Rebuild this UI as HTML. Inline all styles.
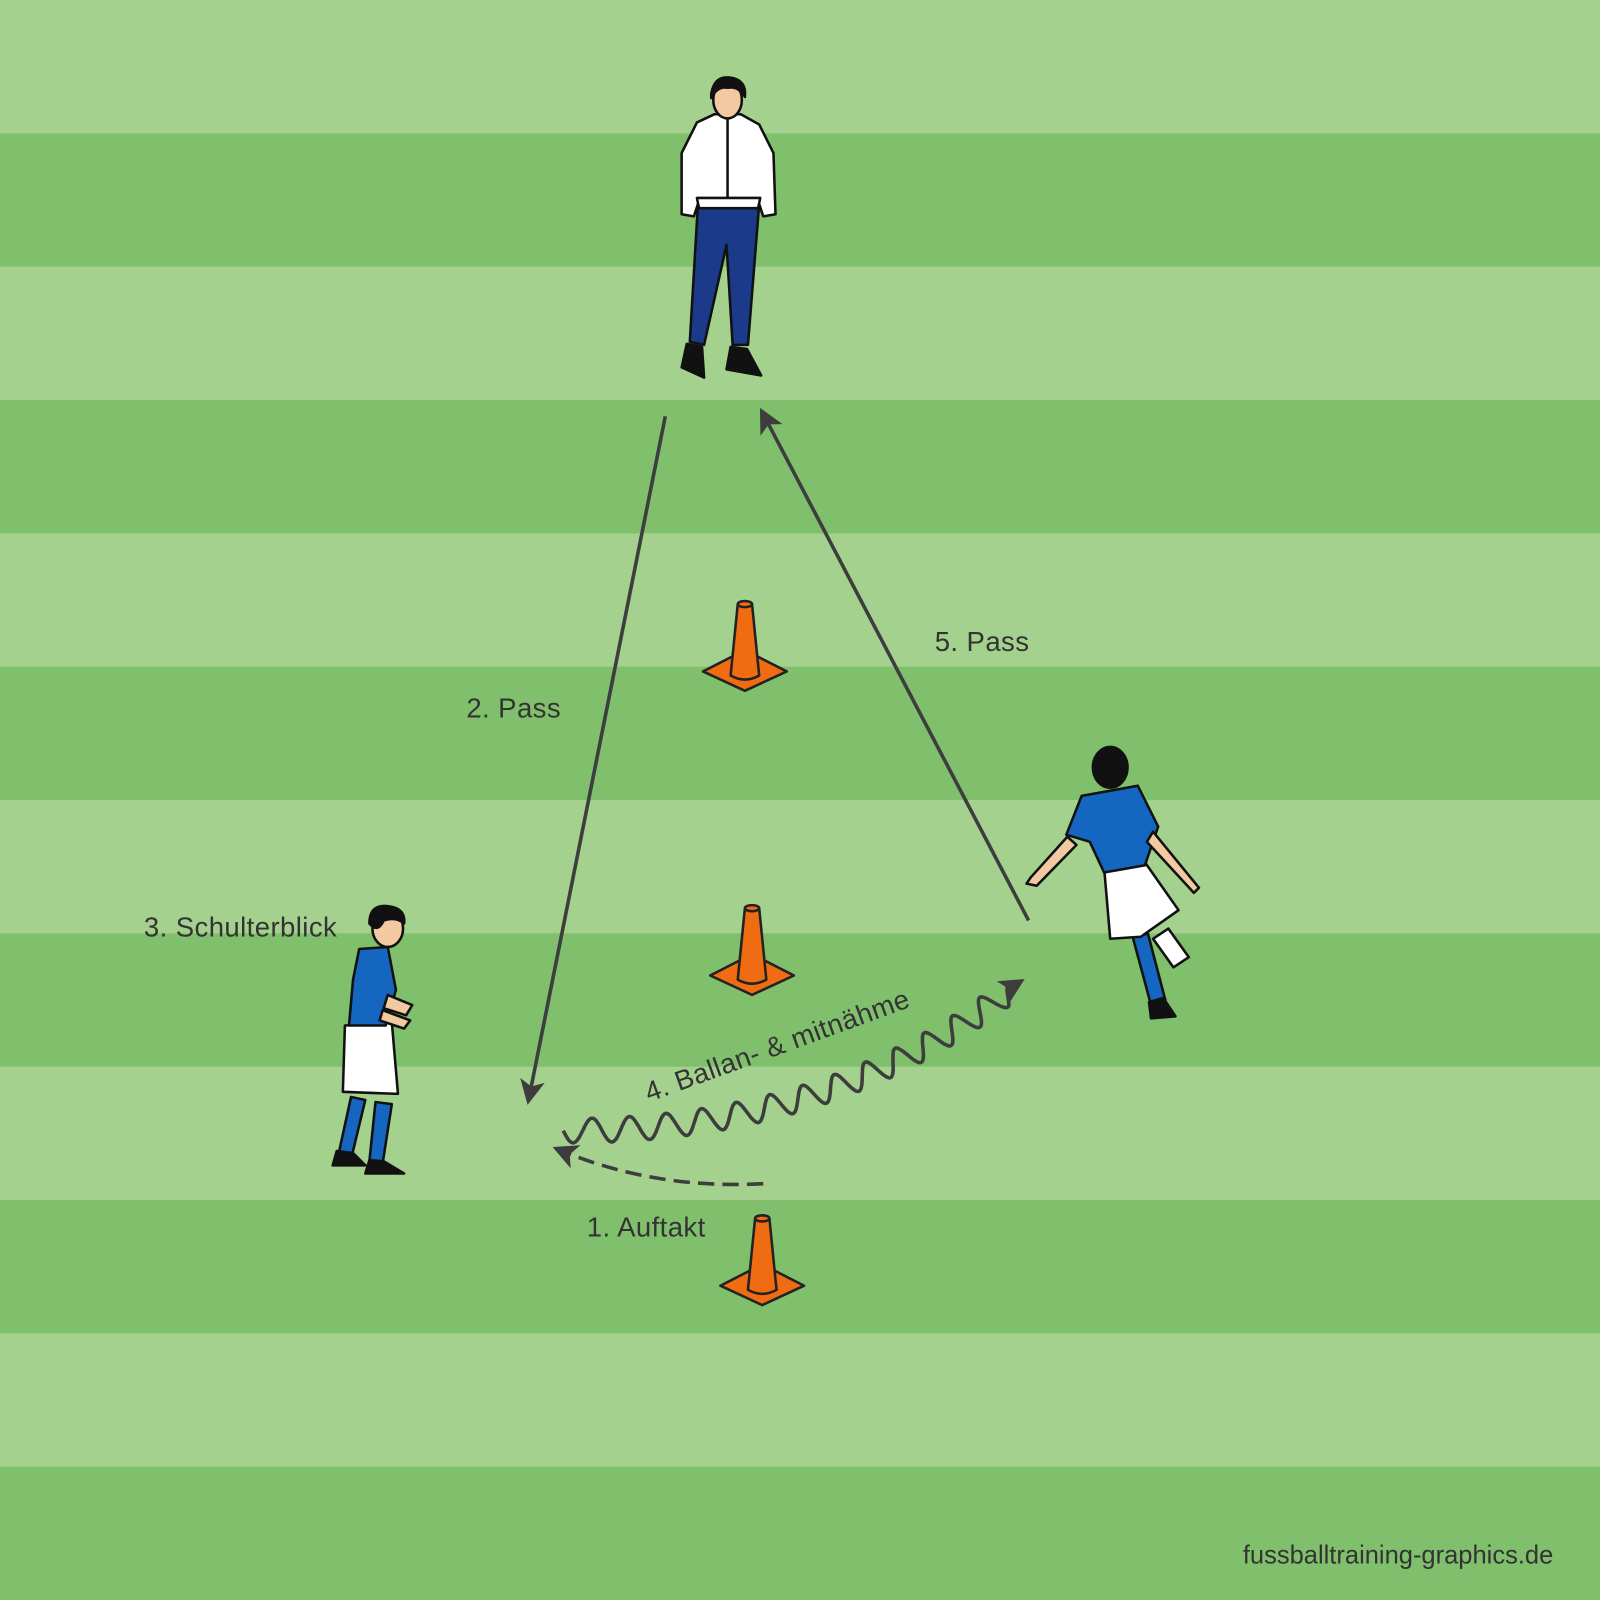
<!DOCTYPE html>
<html><head><meta charset="utf-8"><style>
html,body{margin:0;padding:0;background:#a5d18f}
svg{display:block}
text{font-family:"Liberation Sans",sans-serif;fill:#333;font-size:27px;letter-spacing:0.4px}
</style></head><body>
<svg id="s" width="1600" height="1600" viewBox="0 0 1568 1568" xmlns="http://www.w3.org/2000/svg">
<defs>
<marker id="ah" viewBox="0 0 10 10" refX="8" refY="5" markerWidth="7" markerHeight="7" orient="auto"><path d="M0,0 L10,5 L0,10 L2.5,5 z" fill="#3d3d3d"/></marker>
</defs>
<rect width="1568" height="1568" fill="#a5d18f"/>
<g fill="#80bf6b">
<rect y="130.67" width="1568" height="130.67"/>
<rect y="392" width="1568" height="130.67"/>
<rect y="653.33" width="1568" height="130.67"/>
<rect y="914.67" width="1568" height="130.67"/>
<rect y="1176" width="1568" height="130.67"/>
<rect y="1437.33" width="1568" height="130.67"/>
</g>

<g stroke="#222" stroke-width="2.5" stroke-linejoin="round">
<g transform="translate(730,0)">
<path d="M-41,658 L0,637 L41,658 L0,677 Z" fill="#ef6c12"/>
<path d="M-14,662 L-7,592 L7,592 L14,662 Q0,670 -14,662 Z" fill="#ef6c12"/>
<ellipse cx="0" cy="592" rx="7" ry="3" fill="#ef6c12"/>
</g>
<g transform="translate(737,298)">
<path d="M-41,658 L0,637 L41,658 L0,677 Z" fill="#ef6c12"/>
<path d="M-14,662 L-7,592 L7,592 L14,662 Q0,670 -14,662 Z" fill="#ef6c12"/>
<ellipse cx="0" cy="592" rx="7" ry="3" fill="#ef6c12"/>
</g>
<g transform="translate(747,602)">
<path d="M-41,658 L0,637 L41,658 L0,677 Z" fill="#ef6c12"/>
<path d="M-14,662 L-7,592 L7,592 L14,662 Q0,670 -14,662 Z" fill="#ef6c12"/>
<ellipse cx="0" cy="592" rx="7" ry="3" fill="#ef6c12"/>
</g>
</g>

<g stroke="#3d3d3d" stroke-width="3.5" fill="none">
<line x1="652" y1="408" x2="518" y2="1078" marker-end="url(#ah)"/>
<line x1="1008" y1="902" x2="747" y2="404" marker-end="url(#ah)"/>
<path d="M748,1160 Q640,1166 546,1126" stroke-dasharray="16,8" marker-end="url(#ah)"/>
<path id="wave" d="" marker-end="url(#ah)"/>
</g>

<g stroke="#111" stroke-width="2.5" stroke-linejoin="round">
<path d="M684,200 L676,335 L690,338 L712,240 L718,338 L733,338 L744,200 Z" fill="#1b3a8a"/>
<path d="M673,337 L668,360 L690,370 L688,340 Z" fill="#111"/>
<path d="M716,340 L712,362 L746,368 L732,342 Z" fill="#111"/>
<path d="M683,120 L700,112 L726,112 L744,122 L758,150 L760,210 L748,212 L744,200 L684,200 L680,212 L668,210 L668,150 Z" fill="#fff"/>
<path d="M683,194 L745,194 L743,204 L685,204 Z" fill="#fff"/>
<line x1="713" y1="114" x2="713" y2="194"/>
<ellipse cx="713" cy="98" rx="14" ry="18" fill="#f2c9a0"/>
<path d="M697,92 Q700,74 715,76 Q732,78 730,95 Q724,84 713,86 Q703,84 697,96 Z" fill="#111"/>
</g>

<g stroke="#111" stroke-width="2.5" stroke-linejoin="round">
<path d="M344,1075 L332,1130 L345,1132 L358,1078 Z" fill="#1466c0"/>
<path d="M368,1080 L362,1138 L375,1140 L384,1082 Z" fill="#1466c0"/>
<path d="M330,1128 L326,1142 L358,1142 L346,1130 Z" fill="#111"/>
<path d="M362,1137 L358,1150 L396,1150 L376,1138 Z" fill="#111"/>
<path d="M338,1005 L336,1070 L390,1072 L384,1002 Z" fill="#fff"/>
<path d="M352,930 L380,928 L388,970 L378,1005 L342,1005 L346,960 Z" fill="#1466c0"/>
<path d="M380,975 L404,985 L398,995 L376,988 Z" fill="#f2c9a0"/>
<path d="M375,990 L402,1000 L396,1008 L372,1000 Z" fill="#f2c9a0"/>
<ellipse cx="380" cy="910" rx="15" ry="18" fill="#f2c9a0"/>
<path d="M362,905 Q362,886 380,888 Q398,890 396,905 Q388,898 376,902 Q370,915 362,905 Z" fill="#111"/>
</g>

<g stroke="#111" stroke-width="2.5" stroke-linejoin="round">
<path d="M1110,918 L1128,985 L1142,980 L1125,915 Z" fill="#1466c0"/>
<path d="M1126,982 L1128,998 L1152,996 L1140,978 Z" fill="#111"/>
<path d="M1130,920 L1150,948 L1165,938 L1145,910 Z" fill="#fff"/>
<path d="M1082,850 L1122,845 L1155,892 L1118,918 L1088,920 Z" fill="#fff"/>
<path d="M1060,780 L1115,770 L1135,810 L1122,848 L1082,855 L1068,825 L1045,818 Z" fill="#1466c0"/>
<path d="M1046,820 L1010,860 L1006,866 L1016,868 L1055,828 Z" fill="#f2c9a0"/>
<path d="M1130,815 L1175,870 L1170,875 L1124,825 Z" fill="#f2c9a0"/>
<ellipse cx="1088" cy="752" rx="17" ry="20" fill="#111"/>
</g>

<text x="457" y="703">2. Pass</text>
<text x="916" y="638">5. Pass</text>
<text x="141" y="918">3. Schulterblick</text>
<text x="575" y="1212">1. Auftakt</text>
<text x="0" y="0" transform="translate(636,1080) rotate(-20)">4. Ballan- &amp; mitnähme</text>
<text x="1218" y="1532" style="font-size:25px;letter-spacing:0">fussballtraining-graphics.de</text>
</svg>
<script>
(function(){
var P0=[552,1108],P1=[820,1110],P2=[1000,962];
function B(t){var u=1-t;return [u*u*P0[0]+2*u*t*P1[0]+t*t*P2[0],u*u*P0[1]+2*u*t*P1[1]+t*t*P2[1]];}
function D(t){return [2*(1-t)*(P1[0]-P0[0])+2*t*(P2[0]-P1[0]),2*(1-t)*(P1[1]-P0[1])+2*t*(P2[1]-P1[1])];}
var n=400,waves=14,d="";
for(var i=0;i<=n;i++){var t=i/n,p=B(t),dv=D(t),l=Math.hypot(dv[0],dv[1]);
var nx=-dv[1]/l,ny=dv[0]/l;var a=(t>0.95)?12*(1-t)/0.05:12;var s=a*Math.sin(t*waves*2*Math.PI);
d+=(i?"L":"M")+(p[0]+nx*s).toFixed(1)+","+(p[1]+ny*s).toFixed(1);}
document.getElementById("wave").setAttribute("d",d);
})();
</script>
</body></html>
